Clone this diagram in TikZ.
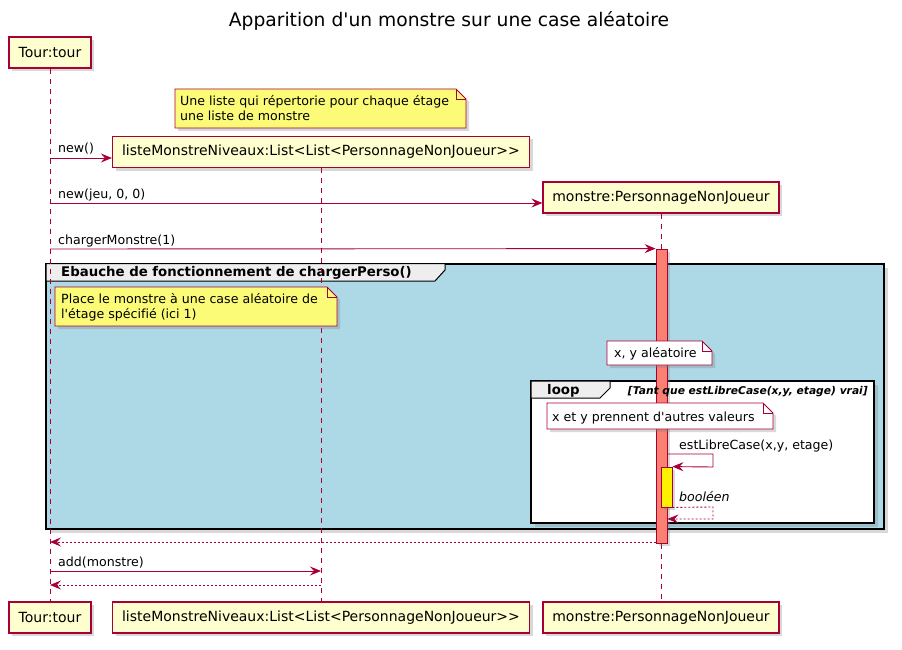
\documentclass[tikz,border=0pt]{standalone}
\usepackage{fontspec}
\setmainfont{DejaVu Sans}[Ligatures={TeXOff,CommonOff}]
\usetikzlibrary{arrows.meta,shadows}
\definecolor{pborder}{HTML}{A80036}
\definecolor{pfill}{HTML}{FEFECE}
\definecolor{notefill}{HTML}{FBFB77}
\definecolor{grpfill}{HTML}{ADD8E6}
\definecolor{hdrfill}{HTML}{EEEEEE}
\definecolor{actfill}{HTML}{FA8072}
\newcommand\umlnote[5]{%
  \path[draw=pborder,fill=#5,line width=0.9pt,shade3] (#1,#2) -- ({#3-10},#2) -- (#3,{#2+10}) -- (#3,#4) -- (#1,#4) -- cycle;
  \draw[pborder,line width=0.9pt] ({#3-10},#2) -- ({#3-10},{#2+10}) -- (#3,{#2+10});}
\begin{document}
\begin{tikzpicture}[x=1pt,y=-1pt,
  shade3/.style={drop shadow={shadow xshift=3pt,shadow yshift=-3pt,opacity=.3}},
  shade4/.style={drop shadow={shadow xshift=4pt,shadow yshift=-4pt,opacity=.3}},
  part/.style={draw=pborder,fill=pfill,line width=1.2pt,minimum height=31pt,inner sep=0pt,
    font=\fontsize{14}{16}\selectfont,shade3},
  life/.style={draw=pborder,line width=0.8pt,dash pattern=on 5pt off 5pt},
  msg/.style={draw=pborder,line width=0.9pt,-{Stealth[length=11pt,width=9pt,inset=4pt]}},
  ret/.style={msg,dash pattern=on 2pt off 2pt},
  lbl/.style={anchor=base west,inner sep=0pt,font=\fontsize{12.6}{15}\selectfont},
  notetxt/.style={anchor=north west,inner sep=0pt,align=left,font=\fontsize{12.6}{15}\selectfont},
  hdr/.style={inner sep=0pt,font=\fontsize{13.3}{15}\selectfont\bfseries},
  actbar/.style={draw=pborder,line width=0.8pt,inner sep=0pt,minimum width=11pt,shade3},
  frame/.style={draw=black,line width=2pt,shade4}
]
\useasboundingbox[fill=white] (0,0) rectangle (902,650);

% title
\node[anchor=base,inner sep=0pt,font=\fontsize{18.7}{22}\selectfont] (title) at (449,27) {Apparition d'un monstre sur une case aléatoire};

% group frame
\path[frame,fill=grpfill] (46,263.5) rectangle (884,529);
\path[draw=black,line width=1pt,fill=hdrfill] (46,263.5) -- (445,263.5) -- (445,270) -- (435,281) -- (46,281) -- cycle;
\node[hdr,anchor=base west] (grplabel) at (61,276) {Ebauche de fonctionnement de chargerPerso()};

% loop frame
\path[frame,fill=white] (531,381) rectangle (874,523);
\path[draw=black,line width=1pt,fill=hdrfill] (531,381) -- (610,381) -- (610,388) -- (600,398) -- (531,398) -- cycle;
\node[hdr,anchor=base west] (looplabel) at (547,394.5) {loop};

% participants
\node[part,minimum width=82pt] (tourT) at (50,52.5) {Tour:tour};
\node[part,minimum width=417pt] (listeT) at (321,152) {listeMonstreNiveaux:List<List<PersonnageNonJoueur>>};
\node[part,minimum width=236pt] (monstreT) at (661,197.5) {monstre:PersonnageNonJoueur};
\node[part,minimum width=82pt] (tourB) at (50,617.5) {Tour:tour};
\node[part,minimum width=417pt] (listeB) at (321,617.5) {listeMonstreNiveaux:List<List<PersonnageNonJoueur>>};
\node[part,minimum width=236pt] (monstreB) at (661,617.5) {monstre:PersonnageNonJoueur};

% lifelines
\draw[life] (tourT.south) -- (tourB.north);
\draw[life] (listeT.south) -- (listeB.north);
\draw[life] (monstreT.south) -- (monstreB.north);

% activations
\node[actbar,fill=actfill,minimum height=294pt] (act1) at (661.5,396) {};
\node[actbar,fill=yellow,minimum height=40pt] (act2) at (666.5,487) {};

% loop guard (above the activation bar)
\node[anchor=base east,inner sep=0pt,font=\fontsize{10.7}{13}\selectfont\bfseries\itshape] (guard) at (868,394) {[Tant que estLibreCase(x,y, etage) vrai]};

% notes
\umlnote{175}{89}{466}{128}{notefill}
\node[notetxt] (note1) at (180,95) {Une liste qui répertorie pour chaque étage\\une liste de monstre};
\umlnote{55}{287}{337}{326}{notefill}
\node[notetxt] (note2) at (61,293) {Place le monstre à une case aléatoire de\\l'étage spécifié (ici 1)};
\umlnote{607}{341}{712}{365}{white}
\node[notetxt] (note3) at (614,347) {x, y aléatoire};
\umlnote{547}{403}{773}{429}{white}
\node[notetxt] (note4) at (552,411.4) {x et y prennent d'autres valeurs};

% messages
\draw[msg] (tourT.south |- 0,158) -- (listeT.west |- 0,158);
\node[lbl] (l1) at (58,153) {new()};
\draw[msg] (tourT.south |- 0,203) -- (monstreT.west |- 0,203);
\node[lbl] (l2) at (58,198) {new(jeu, 0, 0)};
\draw[msg] (tourT.south |- 0,249) -- (act1.north west);
\node[lbl] (l3) at (58,244) {chargerMonstre(1)};
\coordinate (selfA) at (713,454);
\coordinate (selfB) at (713,467);
\draw[msg] (act1.east |- selfA) -- (selfA) -- (selfB) -- (act2.north east);
\node[lbl] (l4) at (679,449) {estLibreCase(x,y, etage)};
\coordinate (retA) at (713,507);
\coordinate (retB) at (713,519);
\draw[ret] (act2.south east) -- (retA) -- (retB) -- (act1.east |- retB);
\node[lbl,font=\fontsize{12.6}{15}\selectfont\itshape] (l5) at (679,501) {booléen};
\draw[ret] (act1.west |- 0,542) -- (tourT.south |- 0,542);
\draw[msg] (tourT.south |- 0,571) -- (listeT.south |- 0,571);
\node[lbl] (l6) at (58,566) {add(monstre)};
\draw[ret] (listeT.south |- 0,585) -- (tourT.south |- 0,585);
\end{tikzpicture}
\end{document}
